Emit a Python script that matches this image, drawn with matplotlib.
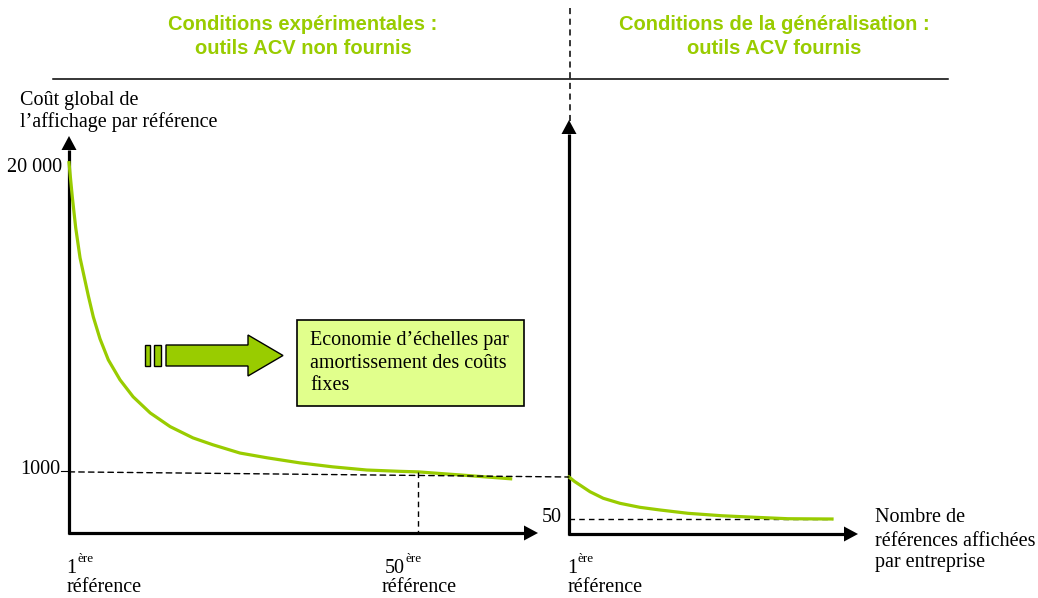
import numpy as np
import matplotlib
matplotlib.use("Agg")
import matplotlib.pyplot as plt
from matplotlib.patches import Polygon, Rectangle, ConnectionPatch

W, H = 1038, 598
GREEN = "#99cc00"
SERIF = "Liberation Serif"
SANS = "Liberation Sans"

# outils ACV non fournis : coût par référence selon le rang de la référence
refs_exp = [1, 1.46, 1.94, 2.55, 3.71, 4.41, 5.35, 6.52, 8.16, 10, 12.4, 15.2,
            18.4, 21.2, 25, 28.8, 33.4, 38, 42.8, 47.5, 50, 57, 63]
cost_exp = [20000, 14380, 10650, 7960, 5510, 4490, 3630, 2960, 2440, 2070, 1770,
            1550, 1390, 1300, 1200, 1146, 1091, 1050, 1018, 1005, 1000, 965, 935]

# outils ACV fournis
refs_gen = [1, 3.1, 5.1, 8.9, 13.9, 20.2, 27.7, 35.3, 45.8, 58.6, 71, 83.4, 100]
cost_gen = [1000, 726, 565, 350, 219, 153, 115, 95, 75, 63, 56.5, 51, 50]

ref_level = 1000
ref_rank = 50
floor_level = 50

fig = plt.figure(figsize=(W / 100, H / 100), dpi=100)
ov = fig.add_axes([0, 0, 1, 1])
ov.set_xlim(0, W)
ov.set_ylim(H, 0)
ov.axis("off")


def box(x0, y0, x1, y1):
    return [x0 / W, 1 - y1 / H, (x1 - x0) / W, (y1 - y0) / H]


def axis_arrow(x0, y0, x1, y1, head=14, half=7.5):
    d = np.array([x1 - x0, y1 - y0], float)
    d /= np.hypot(*d)
    n = np.array([-d[1], d[0]])
    tip = np.array([x1, y1])
    base = tip - d * head
    ov.plot([x0, base[0]], [y0, base[1]], color="black", lw=2.3, solid_capstyle="butt")
    ov.add_patch(Polygon([tip, base + n * half, base - n * half], closed=True,
                         color="black", lw=0))


# titres des deux situations
for cx, lines in [(303, ["Conditions expérimentales :", "outils ACV non fournis"]),
                  (774, ["Conditions de la généralisation :", "outils ACV fournis"])]:
    for y, t in zip([25, 48], lines):
        ov.text(cx, y, t, ha="center", va="center", color=GREEN, fontsize=14.5,
                fontweight="bold", family=SANS)

ov.plot([53, 948], [79, 79], color="black", lw=1.1)
ov.plot([570, 570], [8, 122], color="black", lw=1.1, ls=(0, (4, 3)))

# axes
axis_arrow(69, 534, 69, 136)
axis_arrow(68, 533, 538, 533)
axis_arrow(569, 535, 569, 120)
axis_arrow(568, 534, 858, 534)

txt = dict(family=SERIF, fontsize=14.5, color="black")
ov.text(20, 100, "Coût global de", va="center", **txt)
ov.text(20, 122, "l\u2019affichage par référence", va="center", **txt)
ov.text(62, 168, "20 000", ha="right", va="center", **txt)
ov.text(60, 469, "1000", ha="right", va="center", **txt)
ov.plot([61, 67], [471, 471], color="black", lw=0.8)
ov.text(562, 518, "50", ha="right", va="center", **txt)

for x, num in [(66, "1"), (385, "50"), (567, "1")]:
    ov.text(x, 573, num, ha="left", va="baseline", **txt)
    ov.text(x + (20 if num == "50" else 11), 562, "ère", ha="left", va="baseline",
            family=SERIF, fontsize=9.5)
for x in [67, 382, 568]:
    ov.text(x, 588, "référence", ha="left", va="center", **txt)

for y, t in zip([518, 541, 563], ["Nombre de", "références affichées", "par entreprise"]):
    ov.text(875, y, t, ha="left", va="center", **txt)

# flèche "économie d'échelle"
ov.add_patch(Rectangle((145, 345), 5, 21, facecolor=GREEN, edgecolor="black", lw=1))
ov.add_patch(Rectangle((154, 345), 7, 21, facecolor=GREEN, edgecolor="black", lw=1))
ov.add_patch(Polygon([(166, 345), (248, 345), (248, 335), (283, 355.5), (248, 376),
                      (248, 366), (166, 366)], closed=True, facecolor=GREEN,
                     edgecolor="black", lw=1))
ov.add_patch(Rectangle((297, 320), 227, 86, facecolor="#e1ff8c", edgecolor="black", lw=1.2))
for y, t in zip([341, 363, 385], ["Economie d\u2019échelles par",
                                  "amortissement des coûts", "fixes"]):
    ov.text(310, y, t, ha="left", va="center", **txt)

# panneau gauche : coût sans outils fournis
axl = fig.add_axes(box(69, 136, 537, 533))
axl.set_xlim(1, 66.7)
axl.set_yscale("log")
axl.set_ylim(553, 25900)
axl.axis("off")
axl.patch.set_alpha(0)
axl.plot(refs_exp, cost_exp, color=GREEN, lw=2.3, clip_on=False, solid_joinstyle="round")
axl.plot([ref_rank, ref_rank], [ref_level, 553], color="black", lw=1.0,
         ls=(0, (4, 3)), clip_on=False)

# panneau droit : coût avec outils fournis
axr = fig.add_axes(box(569, 440, 857, 534))
axr.set_xlim(1, 109.4)
axr.set_yscale("log")
axr.set_ylim(17.15, 14000)
axr.axis("off")
axr.patch.set_alpha(0)
axr.plot([1, refs_gen[-1]], [floor_level, floor_level], color="black", lw=1.0,
         ls=(0, (4, 3)), clip_on=False)
axr.plot(refs_gen, cost_gen, color=GREEN, lw=2.3, clip_on=False, solid_joinstyle="round")

con = ConnectionPatch(xyA=(1, ref_level), coordsA=axl.transData,
                      xyB=(1, ref_level), coordsB=axr.transData,
                      color="black", lw=1.0, ls=(0, (4, 3)))
fig.add_artist(con)

fig.savefig("out.png", dpi=100)
